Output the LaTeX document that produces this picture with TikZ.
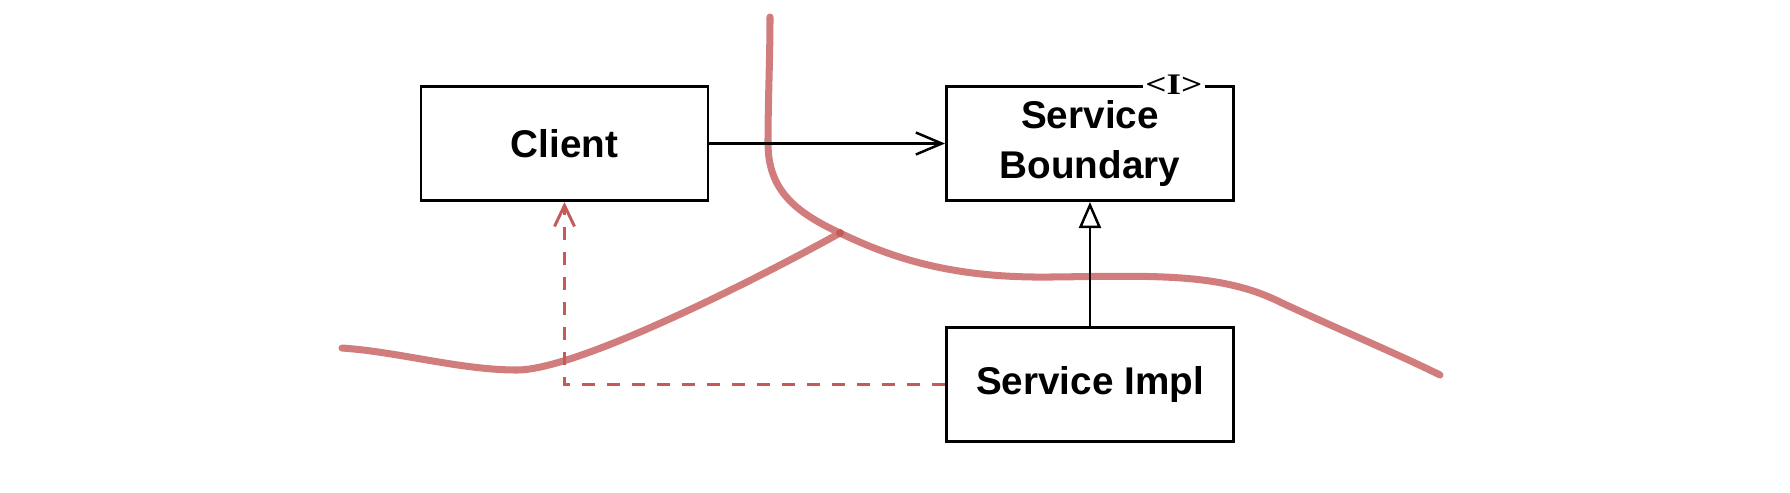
\documentclass[tikz,border=0pt]{standalone}
\usepackage{fontspec}
\setmainfont{Liberation Sans}
\newfontfamily\markfont{Liberation Serif}
\usetikzlibrary{positioning,arrows.meta}
\definecolor{curvered}{RGB}{210,125,125}
\definecolor{dashred}{RGB}{196,90,90}
\tikzset{
  classbox/.style={draw, line width=0.85pt, minimum width=28.7mm, minimum height=11.4mm, align=center, font=\bfseries\fontsize{11}{14}\selectfont},
  uses/.style={-{Straight Barb[length=2.6mm,width=2.2mm]}, line width=0.7pt},
  realizes/.style={-{Triangle[open,length=2.6mm,width=2.2mm,fill=white]}, line width=0.7pt},
  depends/.style={-{Straight Barb[length=2.1mm,width=2mm]}, dash pattern=on 1.25mm off 1.25mm, dashred, line width=0.85pt},
  boundary/.style={curvered, line width=2pt, line cap=round},
}
\begin{document}
\begin{tikzpicture}[x=0.1mm, y=-0.1mm]
\useasboundingbox (0,0) rectangle (1790,492);

% hand-drawn boundary lines
\draw[boundary] (770,17) .. controls (770,60) and (768,100) .. (768,143)
  .. controls (768,190) and (795,212) .. (840,233)
  .. controls (900,262) and (960,278) .. (1050,277)
  .. controls (1150,276) and (1220,272) .. (1280,302)
  .. controls (1340,330) and (1400,355) .. (1440,375);
\draw[boundary] (342,348) .. controls (400,352) and (460,370) .. (517,370)
  .. controls (580,370) and (770,272) .. (840,233);
\fill[dashred] (840,233) circle (0.4mm);

\node[classbox] (Client) at (564.5,143.5) {Client};
\node[classbox, right=23.55mm of Client] (Boundary) {Service\\Boundary};
\node[classbox, below=12.4mm of Boundary] (Impl) {Service Impl};
\node[fill=white, inner sep=0.6pt, font=\markfont\bfseries\fontsize{8.5}{8.5}\selectfont] (Marker) at ([xshift=-6.1mm]Boundary.north east) {\scalebox{1.25}[1]{<I>}};

\draw[uses] (Client) -- (Boundary);
\draw[realizes] (Impl) -- (Boundary);
\draw[depends] (Impl.west) -| (Client.south);

\end{tikzpicture}
\end{document}
